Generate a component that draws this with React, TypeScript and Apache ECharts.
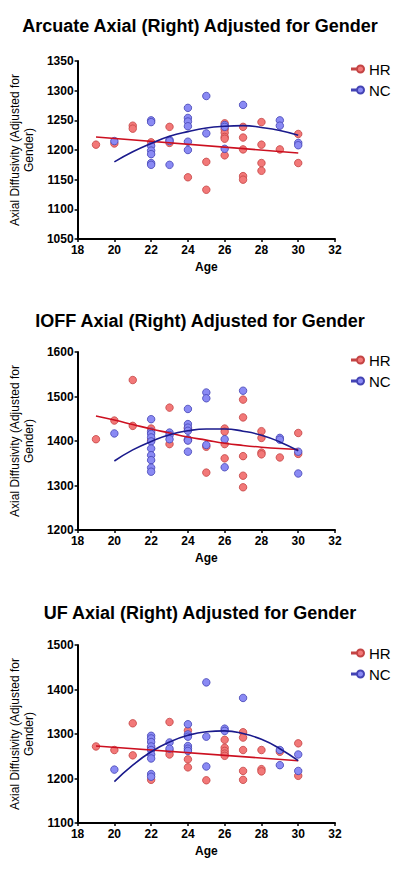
import React, { useEffect, useRef } from "react";
import * as echarts from "echarts";

// ---------- DATA ----------
const xTicks = [18, 20, 22, 24, 26, 28, 30, 32];
const seriesNames = ["HR", "NC"];
const titles = [
  "Arcuate Axial (Right) Adjusted for Gender",
  "IOFF Axial (Right) Adjusted for Gender",
  "UF Axial (Right) Adjusted for Gender",
];
const yMins = [1050, 1200, 1100];
const yMaxs = [1350, 1600, 1500];
const yIntervals = [50, 100, 100];

const arcuateHR = [
  [19, 1209], [20, 1211], [21, 1241], [21, 1236], [22, 1213], [23, 1239], [23, 1212],
  [24, 1154], [25, 1180], [25, 1133], [26, 1245], [26, 1235], [26, 1229], [26, 1222],
  [26, 1219], [26, 1191], [27, 1239], [27, 1221], [27, 1201], [27, 1156], [27, 1150],
  [28, 1247], [28, 1209], [28, 1178], [28, 1165], [29, 1201], [30, 1227], [30, 1178],
];
const arcuateNC = [
  [20, 1215], [22, 1250], [22, 1247], [22, 1207], [22, 1199], [22, 1193], [22, 1178],
  [22, 1175], [23, 1217], [23, 1215], [23, 1175], [24, 1271], [24, 1254], [24, 1248],
  [24, 1240], [24, 1214], [24, 1200], [25, 1291], [25, 1228], [26, 1242], [26, 1239],
  [26, 1202], [27, 1276], [29, 1250], [29, 1241], [30, 1212], [30, 1208],
];
const arcuateHRFit = [[19, 1222], [30, 1195]];
const arcuateNCFit = [
  [20, 1180], [21, 1197], [22, 1211], [23, 1223], [24, 1231], [25, 1237],
  [26, 1240], [27, 1241], [28, 1238], [29, 1233], [30, 1225],
];

const ioffHR = [
  [19, 1404], [20, 1446], [21, 1537], [21, 1434], [22, 1428], [22, 1402], [23, 1475],
  [23, 1393], [24, 1428], [24, 1402], [25, 1387], [25, 1329], [26, 1428], [26, 1421],
  [26, 1393], [26, 1361], [27, 1493], [27, 1453], [27, 1366], [27, 1322], [27, 1296],
  [28, 1422], [28, 1407], [28, 1374], [28, 1370], [29, 1363], [30, 1418], [30, 1371],
];
const ioffNC = [
  [20, 1417], [22, 1449], [22, 1421], [22, 1416], [22, 1408], [22, 1399], [22, 1383],
  [22, 1368], [22, 1357], [22, 1340], [22, 1331], [23, 1419], [23, 1413], [23, 1404],
  [24, 1472], [24, 1438], [24, 1430], [24, 1423], [24, 1404], [24, 1401], [24, 1376],
  [25, 1509], [25, 1496], [25, 1391], [26, 1404], [26, 1341], [27, 1513], [29, 1407],
  [29, 1403], [30, 1376], [30, 1327],
];
const ioffHRFit = [
  [19, 1456], [20, 1447], [21, 1437], [22, 1427], [23, 1418], [24, 1409],
  [25, 1402], [26, 1395], [27, 1390], [28, 1386], [29, 1383], [30, 1381],
];
const ioffNCFit = [
  [20, 1355], [21, 1380], [22, 1399], [23, 1414], [24, 1423], [25, 1427],
  [26, 1427], [27, 1422], [28, 1413], [29, 1398], [30, 1378],
];

const ufHR = [
  [19, 1272], [20, 1264], [21, 1324], [21, 1252], [22, 1269], [22, 1197], [23, 1327],
  [23, 1262], [23, 1254], [24, 1308], [24, 1243], [24, 1225], [25, 1196], [26, 1287],
  [26, 1269], [26, 1262], [26, 1256], [26, 1251], [27, 1304], [27, 1292], [27, 1264],
  [27, 1217], [27, 1197], [28, 1264], [28, 1221], [28, 1216], [29, 1260], [30, 1279],
  [30, 1206],
];
const ufNC = [
  [20, 1220], [22, 1296], [22, 1290], [22, 1282], [22, 1272], [22, 1264], [22, 1254],
  [22, 1245], [22, 1210], [22, 1204], [23, 1281], [23, 1267], [24, 1322], [24, 1299],
  [24, 1294], [24, 1273], [24, 1267], [24, 1262], [25, 1416], [25, 1294], [25, 1227],
  [26, 1312], [26, 1307], [27, 1381], [29, 1264], [29, 1230], [30, 1254], [30, 1217],
];
const ufHRFit = [[19, 1273], [30, 1240]];
const ufNCFit = [
  [20, 1193], [21, 1230], [22, 1260], [23, 1282], [24, 1297], [25, 1305],
  [26, 1307], [27, 1301], [28, 1288], [29, 1267], [30, 1240],
];

const hrPoints = [arcuateHR, ioffHR, ufHR];
const ncPoints = [arcuateNC, ioffNC, ufNC];
const hrFits = [arcuateHRFit, ioffHRFit, ufHRFit];
const ncFits = [arcuateNCFit, ioffNCFit, ufNCFit];

// ---------- LAYOUT / STYLE ----------
const gridTops = [61, 352, 645];
const titleTops = [12, 307, 599];
const legendTops = [56, 347, 640];
const FONT = "'Liberation Sans', Arial, Helvetica, sans-serif";
const HR_FILL = "#f27878";
const HR_BORDER = "#c44444";
const NC_FILL = "#8a8af4";
const NC_BORDER = "#4444b4";
const HR_LINE = "#cc1020";
const NC_LINE = "#1a1a8c";
const legendIcon =
  "path://M0,5.5h5v1h-5z M5,6a3.5,3.5 0 1,0 7,0a3.5,3.5 0 1,0 -7,0z";

function buildOption() {
  const grid: any[] = [];
  const xAxis: any[] = [];
  const yAxis: any[] = [];
  const title: any[] = [];
  const legend: any[] = [];
  const series: any[] = [];

  for (let i = 0; i < 3; i++) {
    grid.push({ left: 69, top: gridTops[i], width: 266, height: 178 });
    title.push({
      text: titles[i],
      left: "center",
      top: titleTops[i],
      textStyle: { fontFamily: FONT, fontSize: 18, fontWeight: "bold", color: "#000" },
    });
    legend.push({
      data: seriesNames,
      orient: "vertical",
      left: 346,
      top: legendTops[i],
      itemWidth: 12,
      itemHeight: 9,
      itemGap: 5,
      icon: legendIcon,
      selectedMode: false,
      textStyle: { fontFamily: FONT, fontSize: 15, color: "#000", lineHeight: 16 },
    });
    xAxis.push({
      type: "value",
      gridIndex: i,
      min: xTicks[0],
      max: xTicks[xTicks.length - 1],
      interval: 2,
      name: "Age",
      nameLocation: "middle",
      nameGap: 22,
      nameTextStyle: { fontFamily: FONT, fontSize: 12, fontWeight: "bold", color: "#000" },
      axisLine: { show: true, onZero: false, lineStyle: { color: "#000", width: 2 } },
      axisTick: { show: true, length: 3, lineStyle: { color: "#000", width: 1.5 } },
      axisLabel: {
        fontFamily: FONT, fontSize: 12, fontWeight: "bold", color: "#000", margin: 5,
        formatter: (v: number) => String(v),
      },
      splitLine: { show: false },
    });
    yAxis.push({
      type: "value",
      gridIndex: i,
      min: yMins[i],
      max: yMaxs[i],
      interval: yIntervals[i],
      name: "Axial Diffusivity (Adjusted for\nGender)",
      nameLocation: "middle",
      nameGap: 30,
      nameTextStyle: { fontFamily: FONT, fontSize: 12, color: "#000", lineHeight: 14, align: "center" },
      axisLine: { show: true, onZero: false, lineStyle: { color: "#000", width: 2 } },
      axisTick: { show: true, length: 3, lineStyle: { color: "#000", width: 1.5 } },
      axisLabel: {
        fontFamily: FONT, fontSize: 12, fontWeight: "bold", color: "#000", margin: 4,
        formatter: (v: number) => String(v),
      },
      splitLine: { show: false },
    });
    series.push({
      name: "HR",
      type: "scatter",
      xAxisIndex: i,
      yAxisIndex: i,
      data: hrPoints[i],
      symbol: "circle",
      symbolSize: 7.5,
      itemStyle: { color: HR_FILL, borderColor: HR_BORDER, borderWidth: 0.8, opacity: 1 },
      z: 2,
    });
    series.push({
      name: "NC",
      type: "scatter",
      xAxisIndex: i,
      yAxisIndex: i,
      data: ncPoints[i],
      symbol: "circle",
      symbolSize: 7.5,
      itemStyle: { color: NC_FILL, borderColor: NC_BORDER, borderWidth: 0.8, opacity: 1 },
      z: 3,
    });
    series.push({
      name: "HR fit",
      type: "line",
      xAxisIndex: i,
      yAxisIndex: i,
      data: hrFits[i],
      smooth: true,
      showSymbol: false,
      lineStyle: { color: HR_LINE, width: 1.6 },
      itemStyle: { color: HR_LINE },
      z: 4,
    });
    series.push({
      name: "NC fit",
      type: "line",
      xAxisIndex: i,
      yAxisIndex: i,
      data: ncFits[i],
      smooth: true,
      showSymbol: false,
      lineStyle: { color: NC_LINE, width: 1.6 },
      itemStyle: { color: NC_LINE },
      z: 5,
    });
  }

  return {
    animation: false,
    backgroundColor: "#fff",
    textStyle: { fontFamily: FONT },
    title,
    legend,
    grid,
    xAxis,
    yAxis,
    series,
  };
}

export default function App() {
  const ref = useRef<HTMLDivElement>(null);
  useEffect(() => {
    if (!ref.current) return;
    const chart = echarts.init(ref.current, undefined, { renderer: "svg" });
    chart.setOption(buildOption() as any);
    return () => chart.dispose();
  }, []);
  return (
    <div
      ref={ref}
      style={{ position: "absolute", left: 0, top: 0, width: 400, height: 875, background: "#fff" }}
    />
  );
}
